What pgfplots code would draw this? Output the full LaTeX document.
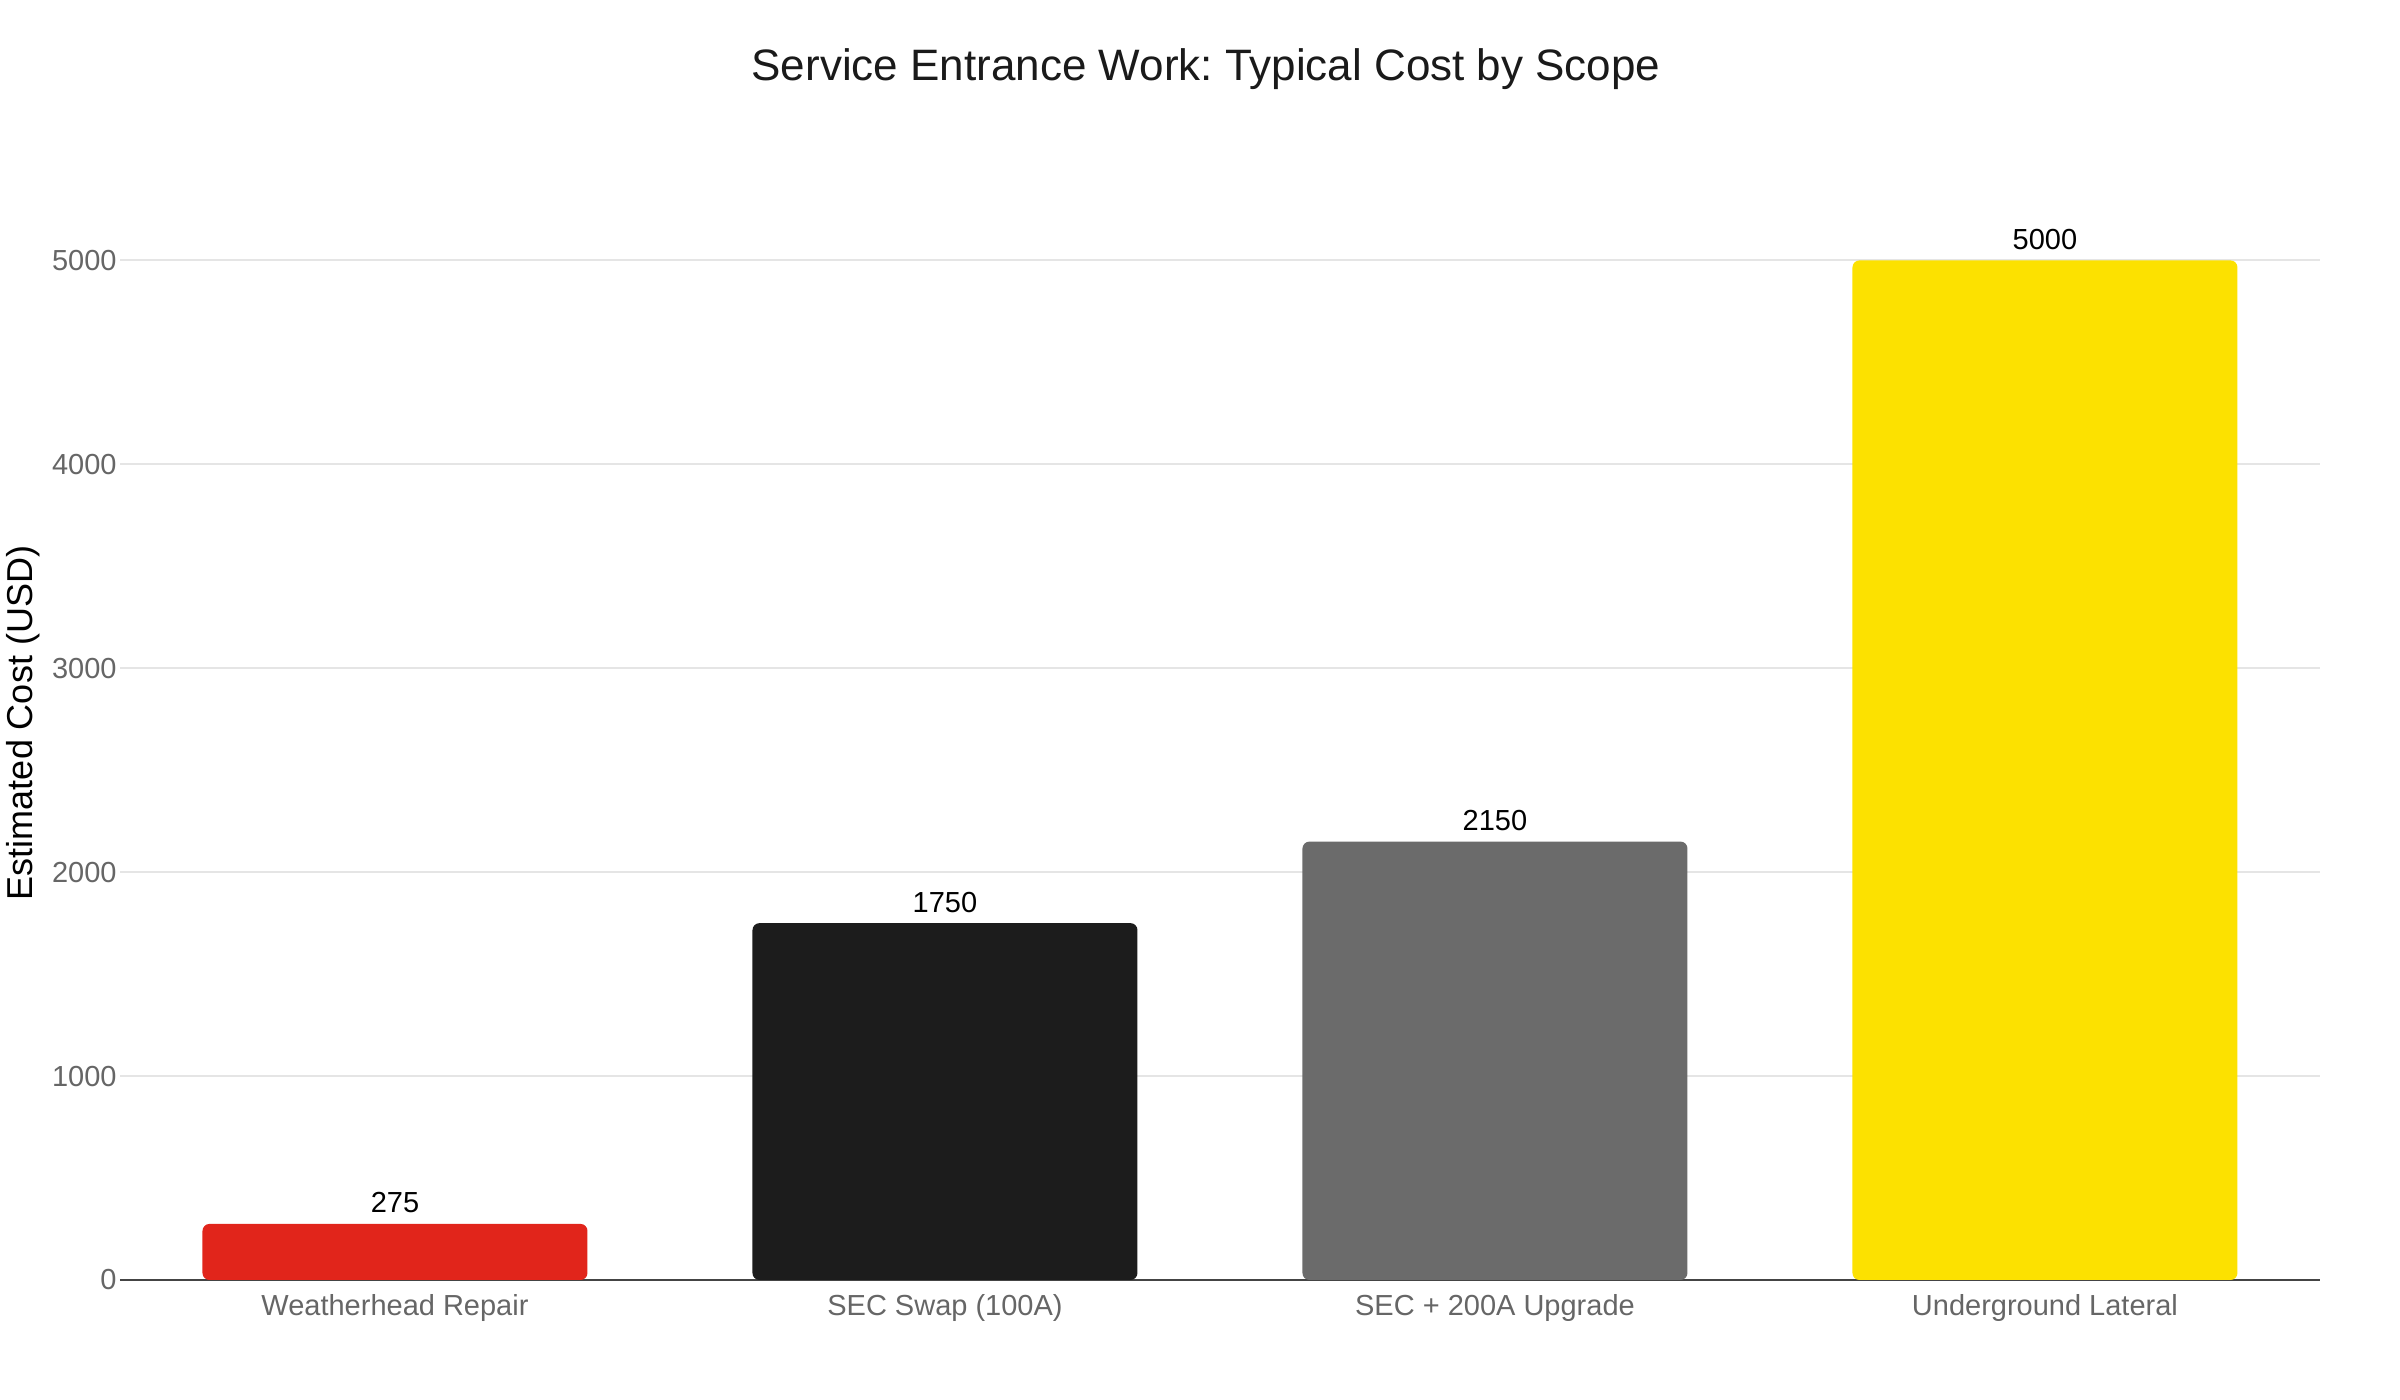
\documentclass[border=0pt]{standalone}
\usepackage{pgfplots}
\pgfplotsset{compat=1.18}
\usepackage{fontspec}
\setmainfont{Liberation Sans}
\frenchspacing
\definecolor{cred}{HTML}{E1251B}
\definecolor{cblack}{HTML}{1C1C1C}
\definecolor{cgray}{HTML}{6B6B6B}
\definecolor{cyellow}{HTML}{FCE100}
\definecolor{gridgray}{HTML}{E5E5E5}
\definecolor{ticklab}{HTML}{666666}
\definecolor{axisdark}{HTML}{444444}
\definecolor{titlecol}{HTML}{1A1A1A}
\begin{document}
\begin{tikzpicture}
\path[use as bounding box] (0,0) rectangle (1200pt,700pt);
\begin{axis}[
  at={(60pt,60pt)}, anchor=south west,
  scale only axis, width=1100pt, height=536.6pt,
  xmin=-0.5, xmax=3.5, ymin=0, ymax=5263,
  axis lines*=left,
  x axis line style={color=axisdark, line width=1pt},
  y axis line style={draw=none},
  tick style={draw=none},
  ybar, bar width=192.5pt, bar shift=0pt,
  ymajorgrids, grid style={color=gridgray, line width=1pt},
  ytick={0,1000,2000,3000,4000,5000},
  xtick={0,1,2,3},
  xticklabels={Weatherhead Repair, SEC Swap (100A), SEC + 200A Upgrade, Underground Lateral},
  tick label style={font=\fontsize{14.5}{17}\selectfont, color=ticklab},
  yticklabel style={anchor=east, inner sep=0pt, xshift=-1.5pt},
  xticklabel style={anchor=north, inner sep=0pt, yshift=-2.8pt},
  /pgf/number format/assume math mode=true,
  /pgf/number format/1000 sep={},
  every axis y label/.style={at={(axis description cs:-0.0441,0.519)}, rotate=90, anchor=center, font=\fontsize{18}{21}\selectfont, color=black},
  ylabel={Estimated Cost (USD)},
  nodes near coords,
  nodes near coords style={font=\fontsize{14.5}{17}\selectfont, color=black, anchor=base, inner sep=0pt, yshift=5.5pt},
]
\addplot[fill=cred, draw=none, rounded corners=3.5pt] coordinates {(0,275)};
\addplot[fill=cblack, draw=none, rounded corners=3.5pt] coordinates {(1,1750)};
\addplot[fill=cgray, draw=none, rounded corners=3.5pt] coordinates {(2,2150)};
\addplot[fill=cyellow, draw=none, rounded corners=3.5pt] coordinates {(3,5000)};
\end{axis}
\node[anchor=base, font=\fontsize{22}{26}\selectfont, color=titlecol] at (603pt,659.8pt) {Service Entrance Work: Typical Cost by Scope};
\end{tikzpicture}
\end{document}
